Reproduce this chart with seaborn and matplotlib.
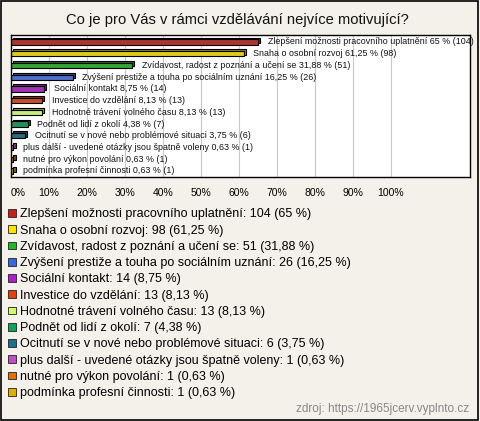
import numpy as np
import pandas as pd
import matplotlib
matplotlib.use('Agg')
import matplotlib.pyplot as plt
import matplotlib.transforms as mtransforms
from matplotlib.patches import Patch
import seaborn as sns

# data
categories = ['Zlepšení možnosti pracovního uplatnění',
              'Snaha o osobní rozvoj',
              'Zvídavost, radost z poznání a učení se',
              'Zvýšení prestiže a touha po sociálním uznání',
              'Sociální kontakt',
              'Investice do vzdělání',
              'Hodnotné trávení volného času',
              'Podnět od lidí z okolí',
              'Ocitnutí se v nové nebo problémové situaci',
              'plus další - uvedené otázky jsou špatně voleny',
              'nutné pro výkon povolání',
              'podmínka profesní činnosti']
counts = [104, 98, 51, 26, 14, 13, 13, 7, 6, 1, 1, 1]
percents = [65, 61.25, 31.88, 16.25, 8.75, 8.13, 8.13, 4.38, 3.75, 0.63, 0.63, 0.63]
colors = ['#c0221a', '#ffe400', '#22b822', '#3c66dc', '#b01ec8', '#e2400e',
          '#ccff66', '#12a060', '#1e6e8c', '#c050c0', '#e07000', '#e0b000']

def fmt(p):
    s = f'{p:.2f}'.rstrip('0').rstrip('.')
    return s.replace('.', ',')

df = pd.DataFrame({'cat': categories, 'pct': percents, 'n': counts})

plt.rcParams['font.family'] = ['Liberation Sans', 'DejaVu Sans']
fig = plt.figure(figsize=(4.8, 4.21), dpi=100, facecolor='#f3f1e9')
ax = fig.add_axes([0.023, 0.580, 0.956, 0.337])
ax.set_facecolor('white')

# shadow bars (3D look), shifted up-right
dark = [tuple(np.array(matplotlib.colors.to_rgb(c)) * 0.65) for c in colors]
sns.barplot(data=df, x='pct', y='cat', hue='cat', palette=dark, width=0.45,
            legend=False, ax=ax, edgecolor='black', linewidth=0.8)
n_shadow = len(ax.patches)
shift = mtransforms.ScaledTranslation(2.2 / 100, 1.8 / 100, fig.dpi_scale_trans)
for p in ax.patches[:n_shadow]:
    p.set_transform(ax.transData + shift)

# front bars
sns.barplot(data=df, x='pct', y='cat', hue='cat', palette=colors, width=0.45,
            legend=False, ax=ax, edgecolor='black', linewidth=0.8)

for i, (c, p, n) in enumerate(zip(categories, percents, counts)):
    ax.annotate(f'{c} {fmt(p)} % ({n})', xy=(p, i), xytext=(7, 0),
                textcoords='offset points', va='center', ha='left',
                fontsize=6.4, color='#111111')

ax.set_xlim(0, 120.8)
ax.set_ylim(11.5, -0.6)
ax.set_xticks(range(0, 101, 10))
ax.set_xticklabels([f'{t}%' for t in range(0, 101, 10)], fontsize=7.5)
ax.get_xticklabels()[0].set_horizontalalignment('left')
ax.set_yticks([])
ax.set_xlabel('')
ax.set_ylabel('')
ax.tick_params(axis='x', length=0, pad=8)
ax.grid(axis='x', color='#c8c8c8', linewidth=0.8)
ax.set_axisbelow(True)
for s in ax.spines.values():
    s.set_color('black')
    s.set_linewidth(1)

fig.text(0.494, 0.953, 'Co je pro Vás v rámci vzdělávání nejvíce motivující?',
         ha='center', va='center', fontsize=10.6, color='#111111')

handles = [Patch(facecolor=col, edgecolor='#222222', linewidth=0.6) for col in colors]
labels = [f'{c}: {n} ({fmt(p)} %)' for c, n, p in zip(categories, counts, percents)]
fig.legend(handles, labels, loc='upper left', bbox_to_anchor=(0.017, 0.505),
           frameon=False, fontsize=9, handlelength=0.6, handleheight=0.6,
           handletextpad=0.35, labelspacing=0.34, borderpad=0, borderaxespad=0)

fig.text(0.978, 0.028, 'zdroj: https://1965jcerv.vyplnto.cz', ha='right',
         va='center', fontsize=8.5, color='#888888')

fig.patches.append(plt.Rectangle((0.002, 0.003), 0.993, 0.994, transform=fig.transFigure,
                                 fill=False, edgecolor='black', linewidth=1.2))

fig.savefig('out.png', dpi=100, facecolor=fig.get_facecolor())
